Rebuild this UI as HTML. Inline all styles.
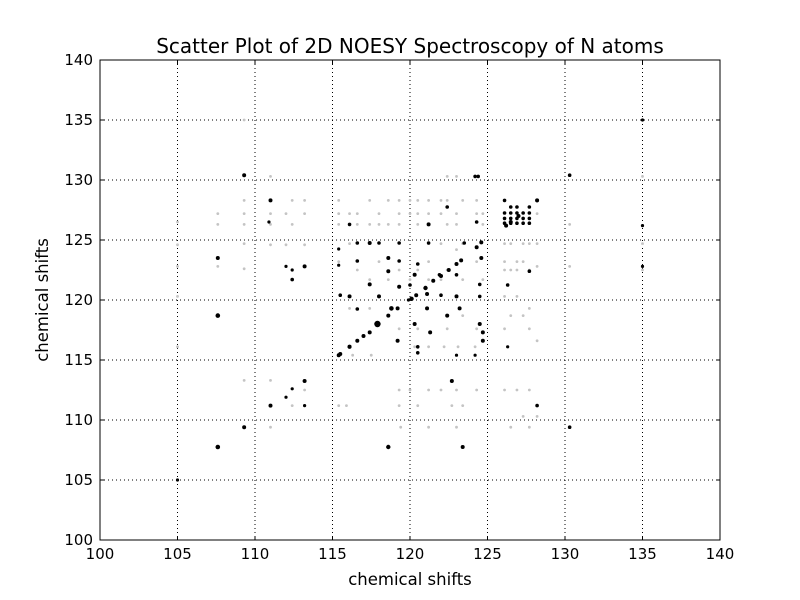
<!DOCTYPE html>
<html><head><meta charset="utf-8">
<style>
body{margin:0;background:#fff;}
svg{display:block;font-family:"DejaVu Sans","Liberation Sans",sans-serif;}
</style></head>
<body>
<svg id="chart" width="800" height="600" viewBox="0 0 800 600" xmlns="http://www.w3.org/2000/svg">
<rect width="800" height="600" fill="#fff"/>
<text x="410" y="53" text-anchor="middle" font-size="20">Scatter Plot of 2D NOESY Spectroscopy of N atoms</text>
<text x="410" y="585" text-anchor="middle" font-size="16.5">chemical shifts</text>
<text x="48" y="300" text-anchor="middle" font-size="16.5" transform="rotate(-90 48 300)">chemical shifts</text>
<g id="grid"></g>
<g id="light"></g>
<g id="dark"></g>
<rect x="100" y="60" width="620" height="480" fill="none" stroke="#000" stroke-width="1"/>
<g id="ticks"></g>
</svg>
<script>
const xTicks=[100,105,110,115,120,125,130,135,140];
const yTicks=[100,105,110,115,120,125,130,135,140];
const darkX=[109.3,111.0,107.6,107.6,107.6,109.3,111.0,113.2,113.2,112.4,105,118.6,123.4,122.7,124.2,130.3,135,128.2,128.2,130.3,135,135,
115.5,116.1,117,117.9,118.8,120.1,121,121.5,122,122.5,123,123.3,124.3,124.6,126.2,126.5,127,
124.4,126.1,126.5,126.9,127.7,126.1,126.5,126.9,127.3,127.7,126.1,126.5,126.9,127.3,127.7,126.1,126.5,126.9,127.3,127.7,
116.1,121.2,122.4,124.3,116.6,117.4,118.0,119.3,121.2,123.5,115.4,119.3,118.6,116.6,115.4,120.5,124.6,118.6,117.4,119.3,120,120.3,121.9,123,124.5,126.3,127.7,
115.5,116.1,118,120.4,121.1,122,123,124.5,119.9,116.6,119.2,121.1,123.2,122.4,118.6,120.3,124.5,117.4,121.3,124.7,116.6,119.2,120.5,124.7,116.1,115.4,120.5,123,124.2,126.3,
112.0,113.2,112.4,112.4,110.9,112.0,128.2];
const darkY=[130.4,128.3,123.5,118.7,107.75,109.4,111.2,113.25,122.8,121.7,105,107.75,107.75,113.25,130.3,130.4,135,128.3,111.2,109.4,126.2,122.8,
115.5,116.1,117,118,119.3,120.1,121,121.6,122,122.5,123,123.3,124.4,124.8,126.2,126.5,127,
130.3,128.3,127.75,127.75,127.75,127.25,127.25,127.25,127.25,127.25,126.8,126.8,126.8,126.8,126.8,126.4,126.4,126.4,126.4,126.4,
126.3,126.3,127.75,126.5,124.75,124.75,124.75,124.75,124.75,124.75,124.25,123.25,123.5,123.25,122.9,123,123.5,122.4,121.3,121.1,121.25,122.1,122.1,122.1,121.3,121.25,122.4,
120.4,120.3,120.3,120.4,120.5,120.4,120.3,120.3,120,119.25,119.3,119.3,119.3,118.7,118.7,118,118,117.3,117.3,117.3,116.6,116.6,116.1,116.6,116.1,115.4,115.6,115.4,115.4,116.1,
111.9,111.2,112.6,122.5,126.5,122.8,128.3];
const darkR=[2,2,2,2.3,2.3,2,2,2,2,1.8,1.6,2.2,2,2,1.8,1.8,1.6,2,1.8,1.8,1.6,1.6,
2,2,2,3.2,2.3,2.2,2.2,2,2,2,2,2,2,2,2,2,2,
1.8,1.8,1.8,1.8,1.8,1.8,1.8,1.8,1.8,1.8,1.8,1.8,1.8,1.8,1.8,1.8,1.8,1.8,1.8,1.8,
1.8,2,1.8,1.8,1.8,2,1.8,1.8,1.8,1.8,1.6,1.8,2,1.8,1.6,1.8,2,2,2,2,1.8,2,1.8,1.8,1.8,1.8,1.8,
1.8,2,2,2,2,1.8,2,1.8,1.6,1.8,2,2,2,2,2,2,2,2,2,2,2,2,1.8,2,2,2,1.8,1.6,1.6,1.6,
1.6,1.6,1.6,1.6,1.6,1.6,1.8];
const lightX=[105,105,105,105,105,107.6,107.6,107.6,109.3,109.3,109.3,109.3,109.3,109.3,111,111,111,111,112,112,112.4,112.4,113.2,113.2,113.2,
115.4,115.4,115.4,116.1,116.1,116.6,116.6,117.4,117.4,118,118,118.6,118.6,119.3,119.3,119.3,120,120,120.5,120.5,120.5,121.2,121.2,121.2,122,122,122,122.4,122.4,122.4,123,123,123,123.4,123.4,124.3,124.3,124.7,124.7,
126.1,126.1,126.1,126.5,126.5,126.9,126.9,127.3,127.3,127.7,127.7,128.2,128.2,128.2,130.3,130.3,135,135,135,
115.4,116.6,118,119.3,120.5,121.2,122.4,123,124.3,126.1,126.9,127.7,
117.4,118.6,120,121.2,122,123.4,124.7,126.5,127.3,
116.1,117.4,119.3,120.5,122.4,123.4,124.3,126.1,127.7,128.2,
119.3,120,121.2,122,123,124.3,126.1,126.9,127.7,115.4,115.9,119.3,120.5,122.7,123.4,127.3,128.2,119.4,121.2,123,126.5,127.7,
112.4,113.2,111,109.3,111,113.2,120.3,121.2,122.2,123.1,124.2,117.5,116.3];
const lightY=[126.5,124.6,122.8,120.3,116.1,127.2,126.3,122.8,135,128.3,127.2,126.3,124.7,122.6,130.3,127.2,126.3,124.6,127.2,124.6,128.3,126.3,128.3,127.2,124.6,
128.3,127.2,126.3,127.2,124.7,127.2,126.3,128.3,126.3,127.2,126.3,128.3,126.3,128.3,127.2,126.3,127.2,128.3,128.3,127.2,126.3,128.3,127.2,124.7,128.3,127.2,124.7,130.3,128.3,126.3,130.3,127.2,126.3,128.3,124.7,128.3,127.2,127.2,126.3,
124.7,123.2,122.5,124.7,122.5,123.2,122.5,124.7,123.2,122.5,124.7,127.2,124.7,122.8,122.8,126.3,130.3,124.7,122.5,
123.2,122.5,123.2,122.5,122.5,123.2,122.5,124.2,123.2,120.3,120.3,119.3,
121.7,121.7,121.7,121.7,121.7,121.7,121.7,118.7,118.7,
119.3,119.3,117.6,117.6,117.6,118.7,117.6,117.6,117.6,116.6,
112.5,112.5,112.5,112.5,112.5,112.5,112.5,112.5,112.5,111.2,111.2,111.2,111.2,111.2,111.2,110.3,110.3,109.4,109.4,109.4,109.4,109.4,
111.2,112.5,113.3,113.3,109.4,111.2,116.1,116.1,116.1,116.1,116.1,115.4,115.4];

const NS='http://www.w3.org/2000/svg';
const X0=100,X1=720,Y0=540,Y1=60;
function sx(v){return X0+(v-100)/(140-100)*(X1-X0);}
function sy(v){return Y0-(v-100)/(140-100)*(Y0-Y1);}
function mk(tag,attrs,parent){const e=document.createElementNS(NS,tag);for(const k in attrs)e.setAttribute(k,attrs[k]);parent.appendChild(e);return e;}
const grid=document.getElementById('grid'),ticks=document.getElementById('ticks');
xTicks.forEach(t=>{
  const x=sx(t);
  if(t>100&&t<140){const l=mk('line',{x1:x,x2:x,y1:Y1,y2:Y0,stroke:'#000','stroke-width':1,'stroke-dasharray':'1,3'},grid);
  
  }
  mk('line',{x1:x,x2:x,y1:Y0,y2:Y0-4,stroke:'#000'},ticks);
  mk('line',{x1:x,x2:x,y1:Y1,y2:Y1+4,stroke:'#000'},ticks);
  const tx=mk('text',{x:x,y:Y0+19,'text-anchor':'middle','font-size':15},ticks);
  tx.textContent=t;
  
  
});
yTicks.forEach(t=>{
  const y=sy(t);
  if(t>100&&t<140){const l=mk('line',{x1:X0,x2:X1,y1:y,y2:y,stroke:'#000','stroke-width':1,'stroke-dasharray':'1,3'},grid);
  
  }
  mk('line',{x1:X0,x2:X0+4,y1:y,y2:y,stroke:'#000'},ticks);
  mk('line',{x1:X1,x2:X1-4,y1:y,y2:y,stroke:'#000'},ticks);
  const tx=mk('text',{x:X0-7,y:y+5,'text-anchor':'end','font-size':15},ticks);
  tx.textContent=t;
  
  
});
const lg=document.getElementById('light');
lightX.forEach((v,i)=>{
  const c=mk('circle',{cx:sx(v),cy:sy(lightY[i]),r:1.4,fill:'#c4c4c4'},lg);
  
  
});
const dg=document.getElementById('dark');
darkX.forEach((v,i)=>{
  const c=mk('circle',{cx:sx(v),cy:sy(darkY[i]),r:darkR[i],fill:'#000'},dg);
  
  
});
</script>
</body></html>
